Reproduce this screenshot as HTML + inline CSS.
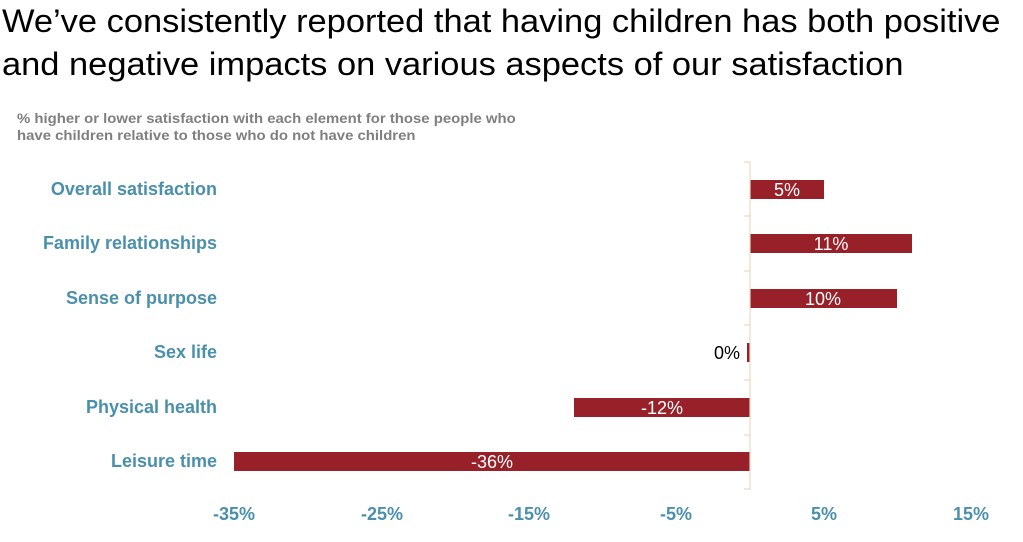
<!DOCTYPE html>
<html><head><meta charset="utf-8"><style>
body{margin:0;background:#fff;width:1023px;height:542px;overflow:hidden;position:relative;font-family:"Liberation Sans",sans-serif}
.t{position:absolute;left:2px;top:0px;font-size:32px;line-height:43px;color:#000;white-space:nowrap;transform:scaleX(1.076);transform-origin:0 0}
.s{position:absolute;left:17px;top:110px;font-size:14px;line-height:17px;color:#7f7f7f;font-weight:bold;white-space:nowrap;transform:scaleX(1.065);transform-origin:0 0}
</style></head><body>
<div class="t">We’ve consistently reported that having children has both positive<br>and negative impacts on various aspects of our satisfaction</div>
<div class="s">% higher or lower satisfaction with each element for those people who<br>have children relative to those who do not have children</div>
<svg width="1023" height="542" style="position:absolute;left:0;top:0" font-family="Liberation Sans, sans-serif">
<g fill="#982129">
<rect x="750" y="180" width="74" height="19"/>
<rect x="750" y="234" width="162" height="19"/>
<rect x="750" y="289" width="147" height="19"/>
<rect x="747" y="343" width="3" height="19"/>
<rect x="574" y="398" width="176" height="19"/>
<rect x="234" y="452" width="516" height="19"/>
</g>
<g stroke="#ecd9bd" stroke-width="1.2">
<line x1="750" y1="162" x2="750" y2="490"/>
<line x1="744" y1="162" x2="750" y2="162"/><line x1="744" y1="216" x2="750" y2="216"/>
<line x1="744" y1="271" x2="750" y2="271"/><line x1="744" y1="325" x2="750" y2="325"/>
<line x1="744" y1="380" x2="750" y2="380"/><line x1="744" y1="435" x2="750" y2="435"/>
<line x1="744" y1="489" x2="750" y2="489"/>
</g>
<g fill="#fff" font-size="18" text-anchor="middle">
<text x="787" y="196">5%</text><text x="831" y="250">11%</text><text x="823" y="305">10%</text>
<text x="662" y="414">-12%</text><text x="492" y="468">-36%</text>
</g>
<text x="740" y="359" font-size="18" text-anchor="end" fill="#000">0%</text>
<g fill="#4a90ad" font-size="18" font-weight="bold" text-anchor="end">
<text x="217" y="195">Overall satisfaction</text><text x="217" y="249">Family relationships</text>
<text x="217" y="304">Sense of purpose</text><text x="217" y="358">Sex life</text>
<text x="217" y="413">Physical health</text><text x="217" y="467">Leisure time</text>
</g>
<g fill="#4a90ad" font-size="18" font-weight="bold" text-anchor="middle">
<text x="234" y="520">-35%</text><text x="382" y="520">-25%</text><text x="529" y="520">-15%</text>
<text x="676" y="520">-5%</text><text x="824" y="520">5%</text><text x="971" y="520">15%</text>
</g>
</svg>
</body></html>
